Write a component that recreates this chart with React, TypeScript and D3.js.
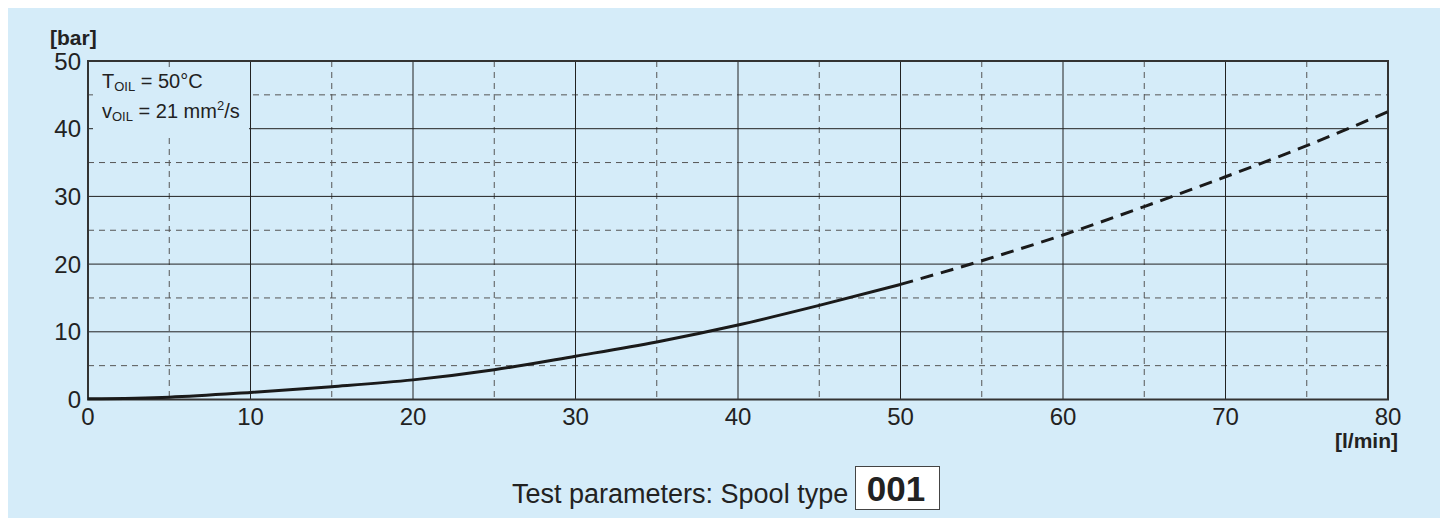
import React from "react";
import * as d3 from "d3";

const flowValues = [0, 5, 10, 15, 20, 25, 30, 35, 40, 45, 50];
const pressureSolid = [0.1, 0.35, 1.05, 1.9, 2.9, 4.4, 6.4, 8.5, 11, 13.9, 17];
const flowDashed = [50, 55, 60, 65, 70, 75, 80];
const pressureDashed = [17, 20.5, 24.3, 28.5, 32.9, 37.5, 42.5];
const xTicks = [0, 10, 20, 30, 40, 50, 60, 70, 80];
const yTicks = [0, 10, 20, 30, 40, 50];
const xMinor = [5, 15, 25, 35, 45, 55, 65, 75];
const yMinor = [5, 15, 25, 35, 45];

const W = 1440;
const H = 510;
const FONT = "'Liberation Sans', Arial, Helvetica, sans-serif";

export default function App() {
  const x = d3.scaleLinear().domain([0, 80]).range([80, 1380]);
  const y = d3.scaleLinear().domain([0, 50]).range([391.5, 53]);
  const line = d3
    .line<[number, number]>()
    .x((d) => x(d[0]))
    .y((d) => y(d[1]))
    .curve(d3.curveMonotoneX);
  const solid = flowValues.map((f, i) => [f, pressureSolid[i]] as [number, number]);
  const dashed = flowDashed.map((f, i) => [f, pressureDashed[i]] as [number, number]);

  return (
    <svg width={W} height={H} style={{ display: "block" }} fontFamily={FONT}>
      <rect x={0} y={0} width={W} height={H} fill="#d5ecf9" />
      {/* minor grid */}
      {xMinor.map((v) => (
        <line key={"xm" + v} x1={x(v)} x2={x(v)} y1={y(50)} y2={y(0)} stroke="#555" strokeWidth={1} strokeDasharray="6,5" />
      ))}
      {yMinor.map((v) => (
        <line key={"ym" + v} x1={x(0)} x2={x(80)} y1={y(v)} y2={y(v)} stroke="#555" strokeWidth={1} strokeDasharray="6,5" />
      ))}
      {/* major grid */}
      {xTicks.map((v) => (
        <line key={"xM" + v} x1={x(v)} x2={x(v)} y1={y(50)} y2={y(0)} stroke="#222" strokeWidth={1} />
      ))}
      {yTicks.map((v) => (
        <line key={"yM" + v} x1={x(0)} x2={x(80)} y1={y(v)} y2={y(v)} stroke="#222" strokeWidth={1} />
      ))}
      {/* legend box covering grid */}
      <rect x={85} y={62} width={156} height={66} fill="#d5ecf9" />
      <text x={94} y={80} fontSize={20} fill="#222">
        T<tspan fontSize={13} dy={3}>OIL</tspan>
        <tspan dy={-3}> = 50°C</tspan>
      </text>
      <text x={94} y={110} fontSize={20} fill="#222">
        v<tspan fontSize={13} dy={3}>OIL</tspan>
        <tspan dy={-3}> = 21 mm</tspan>
        <tspan fontSize={13} dy={-8}>2</tspan>
        <tspan dy={8}>/s</tspan>
      </text>
      {/* frame */}
      <rect x={x(0)} y={y(50)} width={x(80) - x(0)} height={y(0) - y(50)} fill="none" stroke="#333" strokeWidth={2} />
      {/* curve */}
      <path d={line(solid) || ""} fill="none" stroke="#1a1a1a" strokeWidth={3} />
      <path d={line(dashed) || ""} fill="none" stroke="#1a1a1a" strokeWidth={3} strokeDasharray="13,8" />
      {/* tick labels */}
      {yTicks.map((v) => (
        <text key={"yl" + v} x={x(0) - 7} y={y(v) + 8.5} fontSize={24} textAnchor="end" fill="#222">
          {v}
        </text>
      ))}
      {xTicks.map((v) => (
        <text key={"xl" + v} x={x(v)} y={417} fontSize={24} textAnchor="middle" fill="#222">
          {v}
        </text>
      ))}
      <text x={42} y={37} fontSize={21} fontWeight="bold" fill="#222">[bar]</text>
      <text x={1390} y={440} fontSize={21} fontWeight="bold" textAnchor="end" fill="#222">[l/min]</text>
      <text x={504} y={495} fontSize={27} fill="#222">Test parameters: Spool type</text>
      <rect x={847.5} y={458.5} width={84} height={43} fill="#fff" stroke="#444" strokeWidth={1} />
      <text x={888} y={493} fontSize={35} fontWeight="bold" textAnchor="middle" fill="#222">001</text>
    </svg>
  );
}
